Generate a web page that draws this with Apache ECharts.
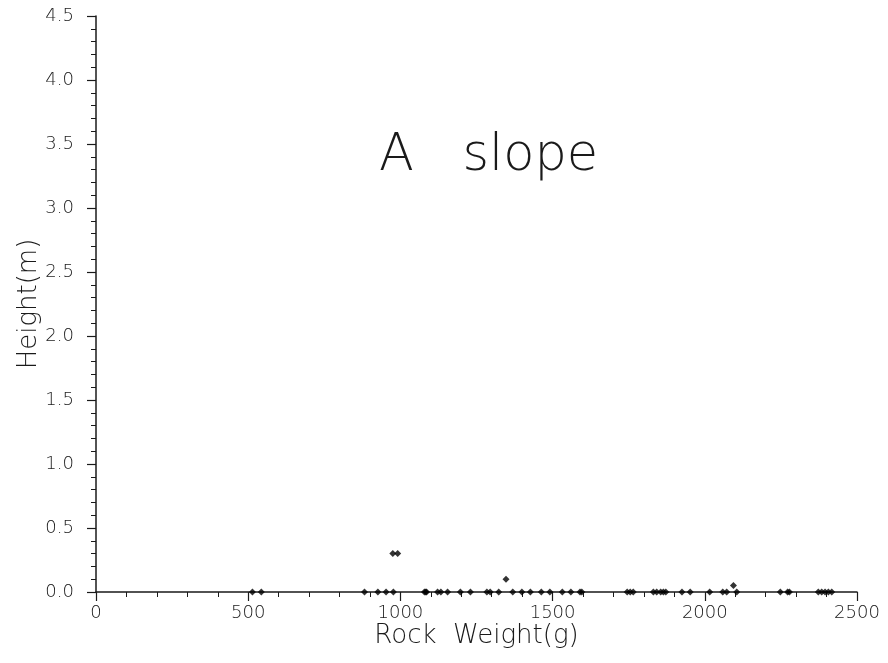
<!DOCTYPE html>
<html>
<head>
<meta charset="utf-8">
<title>A slope</title>
<script src="https://cdn.jsdelivr.net/npm/echarts@6/dist/echarts.min.js"></script>
<style>
  html, body { margin: 0; padding: 0; background: #fff; }
  #chart { width: 888px; height: 663px; }
</style>
</head>
<body>
<div id="chart"></div>
<script>
// Rock weight (g) and the height (m) at which each rock was found
const weights = [
  514, 543, 882, 926, 953, 977, 975, 991,
  1079, 1083, 1086, 1122, 1133, 1155, 1197, 1230, 1284, 1295, 1323, 1347,
  1369, 1399, 1427, 1463, 1491, 1532, 1560, 1590, 1596,
  1745, 1755, 1765, 1831, 1842, 1855, 1864, 1872, 1925, 1952,
  2016, 2059, 2072, 2094, 2105, 2248, 2272, 2278,
  2373, 2384, 2395, 2406, 2417
];
const heights = [
  0, 0, 0, 0, 0, 0, 0.3, 0.3,
  0, 0, 0, 0, 0, 0, 0, 0, 0, 0, 0, 0.1,
  0, 0, 0, 0, 0, 0, 0, 0, 0,
  0, 0, 0, 0, 0, 0, 0, 0, 0, 0,
  0, 0, 0, 0.05, 0, 0, 0, 0,
  0, 0, 0, 0, 0
];
const xTicks = [0, 500, 1000, 1500, 2000, 2500];
const yTicks = [0, 0.5, 1.0, 1.5, 2.0, 2.5, 3.0, 3.5, 4.0, 4.5];
const titleText = 'A   slope';
const xName = 'Rock  Weight(g)';
const yName = 'Height(m)';

const FONT = '"DejaVu Sans", sans-serif';
const INK = '#1a1a1a';

const points = weights.map((w, i) => [w, heights[i]]);

const chart = echarts.init(document.getElementById('chart'), null, { renderer: 'canvas' });

const axisCommon = {
  axisLine: { show: true, lineStyle: { color: INK, width: 1.5 } },
  axisTick: { show: true, inside: false, length: 9, lineStyle: { color: INK, width: 1.2 } },
  minorTick: { show: true, splitNumber: 5, length: 5, lineStyle: { color: INK, width: 1 } },
  splitLine: { show: false },
  nameLocation: 'middle',
  nameMoveOverlap: false,
  nameTextStyle: { fontFamily: FONT, fontSize: 26, fontWeight: 200, color: INK }
};

chart.setOption({
  animation: false,
  backgroundColor: '#fff',
  title: {
    text: titleText,
    left: 374,
    top: 126,
    textStyle: { fontFamily: FONT, fontSize: 51, fontWeight: 200, color: INK }
  },
  grid: { left: 96, right: 31, top: 16, bottom: 71, containLabel: false },
  xAxis: Object.assign({}, axisCommon, {
    type: 'value',
    min: xTicks[0],
    max: xTicks[xTicks.length - 1],
    interval: xTicks[1] - xTicks[0],
    name: xName,
    nameGap: 31,
    axisLabel: {
      margin: 12, fontFamily: FONT, fontSize: 18, fontWeight: 200, color: INK,
      formatter: v => String(v)
    }
  }),
  yAxis: Object.assign({}, axisCommon, {
    type: 'value',
    min: yTicks[0],
    max: yTicks[yTicks.length - 1],
    interval: yTicks[1] - yTicks[0],
    name: yName,
    nameGap: 54,
    nameRotate: 90,
    axisLabel: {
      margin: 22, fontFamily: FONT, fontSize: 18, fontWeight: 200, color: INK,
      formatter: v => v.toFixed(1)
    }
  }),
  series: [{
    type: 'scatter',
    data: points,
    symbol: 'diamond',
    symbolSize: 7,
    itemStyle: { color: '#000' },
    clip: false
  }]
});
</script>
</body>
</html>
